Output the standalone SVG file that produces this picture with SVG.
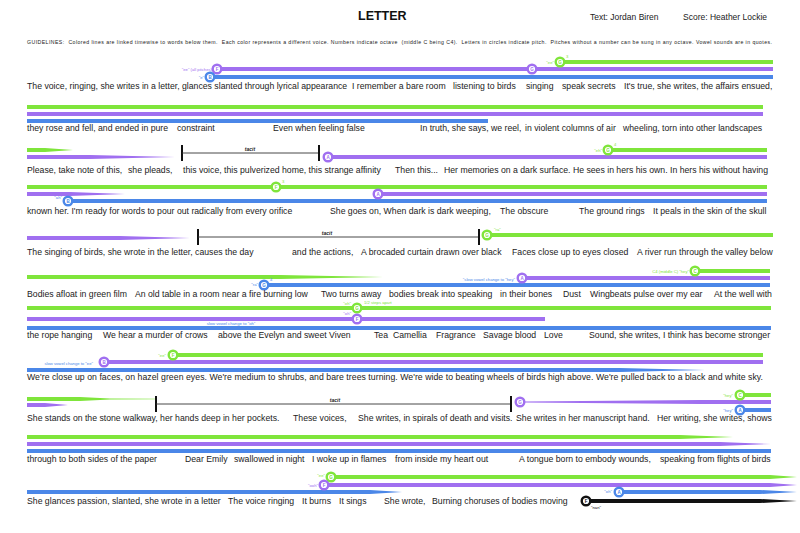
<svg xmlns="http://www.w3.org/2000/svg" width="800" height="533" viewBox="0 0 800 533">
<style>
.bg{fill:#ffffff}
.t{font-family:"Liberation Sans",Arial,sans-serif;font-size:8.7px;fill:#222}
.ttl{font-family:"Liberation Sans",Arial,sans-serif;font-size:12.5px;font-weight:bold;fill:#111}
.hd{font-family:"Liberation Sans",Arial,sans-serif;font-size:8.5px;fill:#222}
.gl{font-family:"Liberation Sans",Arial,sans-serif;font-size:5.2px;fill:#222}
.sm{font-family:"Liberation Sans",Arial,sans-serif;font-size:4.2px}
.tac{font-family:"Liberation Sans",Arial,sans-serif;font-size:5px;font-style:italic;font-weight:bold;fill:#222;text-anchor:middle}
.g{stroke:#7fe53b;stroke-width:4}
.p{stroke:#a06ff0;stroke-width:4}
.b{stroke:#4b87e8;stroke-width:4}
.k{stroke:#111;stroke-width:4}
.gf{fill:#7fe53b}
.pf{fill:#a06ff0}
.bf{fill:#4b87e8}
.kf{fill:#111}
.cg{fill:#fff;stroke:#7fe53b;stroke-width:2.4}
.cp{fill:#fff;stroke:#a06ff0;stroke-width:2.4}
.cb{fill:#fff;stroke:#4b87e8;stroke-width:2.4}
.ck{fill:#fff;stroke:#111;stroke-width:2.4}
.lt{font-family:"Liberation Sans",Arial,sans-serif;font-size:4.5px;font-weight:bold;text-anchor:middle}
.bar{stroke:#111;stroke-width:2}
.hl{stroke:#333;stroke-width:0.9}
</style>
<rect class="bg" x="0" y="0" width="800" height="533"/>

<g id="header">
<text class="ttl" x="358" y="20">LETTER</text>
<text class="hd" x="590" y="20">Text: Jordan Biren</text>
<text class="hd" x="683" y="20">Score: Heather Lockie</text>
<text class="gl" x="27" y="44" textLength="745" lengthAdjust="spacing" xml:space="preserve">GUIDELINES:  Colored lines are linked timewise to words below them.  Each color represents a different voice. Numbers indicate octave  (middle C being C4).  Letters in circles indicate pitch.  Pitches without a number can be sung in any octave. Vowel sounds are in quotes.</text>
</g>

<g id="connectors">
<!-- row 1 -->
<line class="g" x1="560" y1="62" x2="773" y2="62"/>
<line class="p" x1="217" y1="69" x2="773" y2="69"/>
<line class="b" x1="210" y1="77" x2="773" y2="77"/>
<!-- row 2 -->
<line class="g" x1="27" y1="107" x2="763" y2="107"/>
<line class="p" x1="27" y1="114" x2="763" y2="114"/>
<line class="b" x1="27" y1="121" x2="488" y2="121"/>
<!-- row 3 -->
<polygon class="gf" points="27,148 45,148 73,150 45,152 27,152"/>
<polygon class="pf" points="27,155 90,155 175,157 90,159 27,159"/>
<line class="p" x1="328" y1="157" x2="767" y2="157"/>
<line class="g" x1="608" y1="150" x2="767" y2="150"/>
<!-- row 4 -->
<line class="g" x1="27" y1="187" x2="767" y2="187"/>
<polygon class="pf" points="27,192 70,192 125,194 70,196 27,196"/>
<line class="p" x1="378" y1="194" x2="767" y2="194"/>
<line class="b" x1="68" y1="201" x2="767" y2="201"/>
<!-- row 5 -->
<polygon class="pf" points="27,236 120,236 190,238 120,240 27,240"/>
<line class="g" x1="487" y1="235" x2="773" y2="235"/>
<!-- row 6 -->
<polygon class="gf" points="27,275 280,275 383,277 280,279 27,279"/>
<line class="g" x1="695" y1="271" x2="770" y2="271"/>
<line class="p" x1="522" y1="278" x2="770" y2="278"/>
<line class="b" x1="264" y1="285" x2="770" y2="285"/>
<!-- row 7 -->
<line class="g" x1="27" y1="308" x2="771" y2="308"/>
<line class="p" x1="27" y1="319" x2="545" y2="319"/>
<line class="b" x1="27" y1="328" x2="771" y2="328"/>
<!-- row 8 -->
<line class="g" x1="173" y1="355" x2="763" y2="355"/>
<line class="p" x1="104" y1="362" x2="763" y2="362"/>
<polygon class="bf" points="27,368 620,368 705,370 620,372 27,372"/>
<!-- row 9 -->
<polygon class="gf" points="27,397 80,397 110,398.6 155,398.8 155,399.2 110,399.4 80,401 27,401"/>
<polygon class="pf" points="27,403 45,403 68,405 45,407 27,407"/>
<polygon class="pf" points="524,401.5 700,400 771,400 771,404 700,404 524,402.5"/>
<line class="g" x1="740" y1="395" x2="771" y2="395"/>
<line class="b" x1="740" y1="410" x2="771" y2="410"/>
<!-- row 10 -->
<polygon class="gf" points="27,435 680,435 733,437 680,439 27,439"/>
<polygon class="pf" points="27,442 720,442 771,444 720,446 27,446"/>
<line class="b" x1="27" y1="451" x2="771" y2="451"/>
<!-- row 11 -->
<polygon class="gf" points="331,475 770,475 797,477 770,479 331,479"/>
<polygon class="pf" points="324,483 770,483 797,485 770,487 324,487"/>
<polygon class="bf" points="27,490 370,490 402,492 370,494 27,494"/>
<polygon class="bf" points="619,490 760,490 797,492 760,494 619,494"/>
<polygon class="kf" points="586,499 760,499 797,501 760,503 586,503"/>
</g>

<g id="tacit-bars">
<line class="bar" x1="182" y1="145" x2="182" y2="161"/>
<line class="hl" x1="182" y1="153" x2="319" y2="153"/>
<line class="bar" x1="319" y1="145" x2="319" y2="161"/>
<text class="tac" x="250" y="151">tacit</text>
<line class="bar" x1="198" y1="229" x2="198" y2="245"/>
<line class="hl" x1="198" y1="237" x2="479" y2="237"/>
<line class="bar" x1="479" y1="229" x2="479" y2="245"/>
<text class="tac" x="327" y="235">tacit</text>
<line class="bar" x1="156" y1="396" x2="156" y2="412"/>
<line class="hl" x1="156" y1="404" x2="511" y2="404"/>
<line class="bar" x1="511" y1="396" x2="511" y2="412"/>
<text class="tac" x="335" y="402">tacit</text>
</g>

<g id="pitches">
<g id="n1p"><circle class="cp" cx="217" cy="69" r="4.3"/><text class="lt" x="217" y="70.6" fill="#a06ff0">F</text><text class="sm" x="212" y="70.5" fill="#a06ff0" text-anchor="end">"ee" (all pitches)</text></g>
<g id="n1b"><circle class="cb" cx="210" cy="77" r="4.3"/><text class="lt" x="210" y="78.6" fill="#4b87e8">B</text><text class="sm" x="204" y="78.5" fill="#4b87e8" text-anchor="end">"e"</text></g>
<g id="n1p2"><circle class="cp" cx="532" cy="69" r="4.3"/><text class="lt" x="532" y="70.6" fill="#a06ff0">G</text></g>
<g id="n1g"><circle class="cg" cx="560" cy="62" r="4.3"/><text class="lt" x="560" y="63.6" fill="#7fe53b">G</text><text class="sm" x="554" y="63.5" fill="#7fe53b" text-anchor="end">"ee"</text><text class="sm" x="566" y="58" fill="#7fe53b">3</text></g>

<g id="n3p"><circle class="cp" cx="328" cy="157" r="4.3"/><text class="lt" x="328" y="158.6" fill="#a06ff0">A</text></g>
<g id="n3g"><circle class="cg" cx="608" cy="150" r="4.3"/><text class="lt" x="608" y="151.6" fill="#7fe53b">G</text><text class="sm" x="602" y="151.5" fill="#7fe53b" text-anchor="end">"eh"</text><text class="sm" x="614" y="146" fill="#7fe53b">4</text></g>

<g id="n4g"><circle class="cg" cx="276" cy="187" r="4.3"/><text class="lt" x="276" y="188.6" fill="#7fe53b">F</text><text class="sm" x="282" y="183" fill="#7fe53b">3</text></g>
<g id="n4p"><circle class="cp" cx="378" cy="194" r="4.3"/><text class="lt" x="378" y="195.6" fill="#a06ff0">A</text></g>
<g id="n4b"><circle class="cb" cx="68" cy="201" r="4.3"/><text class="lt" x="68" y="202.6" fill="#4b87e8">B</text><text class="sm" x="62" y="199" fill="#4b87e8" text-anchor="end">"ah"</text></g>

<g id="n5g"><circle class="cg" cx="487" cy="235" r="4.3"/><text class="lt" x="487" y="236.6" fill="#7fe53b">G</text><text class="sm" x="494" y="231" fill="#7fe53b">"ra"</text></g>

<g id="n6b"><circle class="cb" cx="264" cy="285" r="4.3"/><text class="lt" x="264" y="286.6" fill="#4b87e8">G</text><text class="sm" x="258" y="286" fill="#4b87e8" text-anchor="end">"ra"</text><text class="sm" x="270" y="281" fill="#4b87e8">4</text></g>
<g id="n6p"><circle class="cp" cx="522" cy="278" r="4.3"/><text class="lt" x="522" y="279.6" fill="#a06ff0">A</text><text class="sm" x="515" y="280.5" fill="#4b87e8" text-anchor="end">"slow vowel change to "hey"</text></g>
<g id="n6g"><circle class="cg" cx="695" cy="271" r="4.3"/><text class="lt" x="695" y="272.6" fill="#7fe53b">C</text><text class="sm" x="689" y="272.5" fill="#7fe53b" text-anchor="end">C4 (middle C) "hey"</text></g>

<g id="n7g"><circle class="cg" cx="357" cy="308" r="4.3"/><text class="lt" x="357" y="309.6" fill="#7fe53b">G</text><text class="sm" x="351" y="304.5" fill="#7fe53b" text-anchor="end">"oh"</text><text class="sm" x="364" y="304" fill="#7fe53b">1/2 steps apart</text></g>
<g id="n7p"><circle class="cp" cx="357" cy="319" r="4.3"/><text class="lt" x="357" y="320.6" fill="#a06ff0">F</text><text class="sm" x="351" y="315" fill="#a06ff0" text-anchor="end">"oh"</text></g>
<text class="sm" x="231" y="325" fill="#4b87e8" text-anchor="middle">slow vowel change to "oh"</text>

<g id="n8g"><circle class="cg" cx="173" cy="355" r="4.3"/><text class="lt" x="173" y="356.6" fill="#7fe53b">F</text><text class="sm" x="166" y="356.5" fill="#7fe53b" text-anchor="end">"ee"</text></g>
<g id="n8p"><circle class="cp" cx="104" cy="362" r="4.3"/><text class="lt" x="104" y="363.6" fill="#a06ff0">B</text><text class="sm" x="93" y="365" fill="#4b87e8" text-anchor="end">slow vowel change to "ee"</text></g>

<g id="n9p"><circle class="cp" cx="520" cy="402" r="4.3"/><text class="lt" x="520" y="403.6" fill="#a06ff0">G</text></g>
<g id="n9g"><circle class="cg" cx="740" cy="395" r="4.3"/><text class="lt" x="740" y="396.6" fill="#7fe53b">C</text><text class="sm" x="733" y="396.5" fill="#7fe53b" text-anchor="end">"hey"</text></g>
<g id="n9b"><circle class="cb" cx="740" cy="410" r="4.3"/><text class="lt" x="740" y="411.6" fill="#4b87e8">A</text><text class="sm" x="733" y="411.5" fill="#4b87e8" text-anchor="end">"hey"</text></g>

<g id="n11g"><circle class="cg" cx="331" cy="477" r="4.3"/><text class="lt" x="331" y="478.6" fill="#7fe53b">G</text><text class="sm" x="325" y="477" fill="#7fe53b" text-anchor="end">"ee"</text></g>
<g id="n11p"><circle class="cp" cx="324" cy="485" r="4.3"/><text class="lt" x="324" y="486.6" fill="#a06ff0">F</text><text class="sm" x="318" y="486.5" fill="#a06ff0" text-anchor="end">"ooh"</text></g>
<g id="n11b"><circle class="cb" cx="619" cy="492" r="4.3"/><text class="lt" x="619" y="493.6" fill="#4b87e8">A</text><text class="sm" x="612" y="493" fill="#4b87e8" text-anchor="end">"oh"</text></g>
<g id="n11k"><circle class="ck" cx="586" cy="501" r="4.3"/><text class="lt" x="586" y="502.6" fill="#111">F</text><text class="sm" x="591" y="508.5" fill="#111">"nan"</text></g>
</g>

<g id="lyrics">
<text class="t" y="89"><tspan x="27">The voice, ringing, she writes in a letter, glances slanted through lyrical appearance</tspan><tspan x="352">I remember a bare room</tspan><tspan x="453">listening to birds</tspan><tspan x="526">singing</tspan><tspan x="562">speak secrets</tspan><tspan x="624">It's true, she writes, the affairs ensued,</tspan></text>
<text class="t" y="131"><tspan x="27">they rose and fell, and ended in pure</tspan><tspan x="177">constraint</tspan><tspan x="273">Even when feeling false</tspan><tspan x="420">In truth, she says, we reel,</tspan><tspan x="525">in violent columns of air</tspan><tspan x="623">wheeling, torn into other landscapes</tspan></text>
<text class="t" y="173"><tspan x="27">Please, take note of this,</tspan><tspan x="128">she pleads,</tspan><tspan x="183">this voice, this pulverized home, this strange affinity</tspan><tspan x="395">Then this...</tspan><tspan x="444">Her memories on a dark surface. He sees in hers his own. In hers his without having</tspan></text>
<text class="t" y="214"><tspan x="27">known her. I'm ready for words to pour out radically from every orifice</tspan><tspan x="330">She goes on, When dark is dark weeping,</tspan><tspan x="500">The obscure</tspan><tspan x="579">The ground rings</tspan><tspan x="653">It peals in the skin of the skull</tspan></text>
<text class="t" y="255"><tspan x="27">The singing of birds, she wrote in the letter, causes the day</tspan><tspan x="292">and the actions,</tspan><tspan x="361">A brocaded curtain drawn over black</tspan><tspan x="512">Faces close up to eyes closed</tspan><tspan x="637">A river run through the valley below</tspan></text>
<text class="t" y="297"><tspan x="27">Bodies afloat in green film</tspan><tspan x="135">An old table in a room near a fire burning low</tspan><tspan x="321">Two turns away</tspan><tspan x="389">bodies break into speaking</tspan><tspan x="500">in their bones</tspan><tspan x="563">Dust</tspan><tspan x="590">Wingbeats pulse over my ear</tspan><tspan x="714">At the well with</tspan></text>
<text class="t" y="338"><tspan x="27">the rope hanging</tspan><tspan x="103">We hear a murder of crows</tspan><tspan x="218">above the Evelyn and sweet Viven</tspan><tspan x="374">Tea</tspan><tspan x="393">Camellia</tspan><tspan x="436">Fragrance</tspan><tspan x="483">Savage blood</tspan><tspan x="544">Love</tspan><tspan x="589">Sound, she writes, I think has become stronger</tspan></text>
<text class="t" x="27" y="380" textLength="736" lengthAdjust="spacing">We're close up on faces, on hazel green eyes. We're medium to shrubs, and bare trees turning. We're wide to beating wheels of birds high above. We're pulled back to  a black and white sky.</text>
<text class="t" y="421"><tspan x="27">She stands on the stone walkway, her hands deep in her pockets.</tspan><tspan x="293">These voices,</tspan><tspan x="358">She writes, in spirals of death and visits.</tspan><tspan x="516">She writes in her manuscript hand.</tspan><tspan x="657">Her writing, she writes, shows</tspan></text>
<text class="t" y="462"><tspan x="27">through to both sides of the paper</tspan><tspan x="185">Dear Emily</tspan><tspan x="234">swallowed in night</tspan><tspan x="312">I woke up in flames</tspan><tspan x="395">from inside my heart out</tspan><tspan x="519">A tongue born to embody wounds,</tspan><tspan x="660">speaking from flights of birds</tspan></text>
<text class="t" y="504"><tspan x="27">She glances passion, slanted, she wrote in a letter</tspan><tspan x="228">The voice ringing</tspan><tspan x="302">It burns</tspan><tspan x="339">It sings</tspan><tspan x="384">She wrote,</tspan><tspan x="432">Burning choruses of bodies moving</tspan></text>
</g>
</svg>
